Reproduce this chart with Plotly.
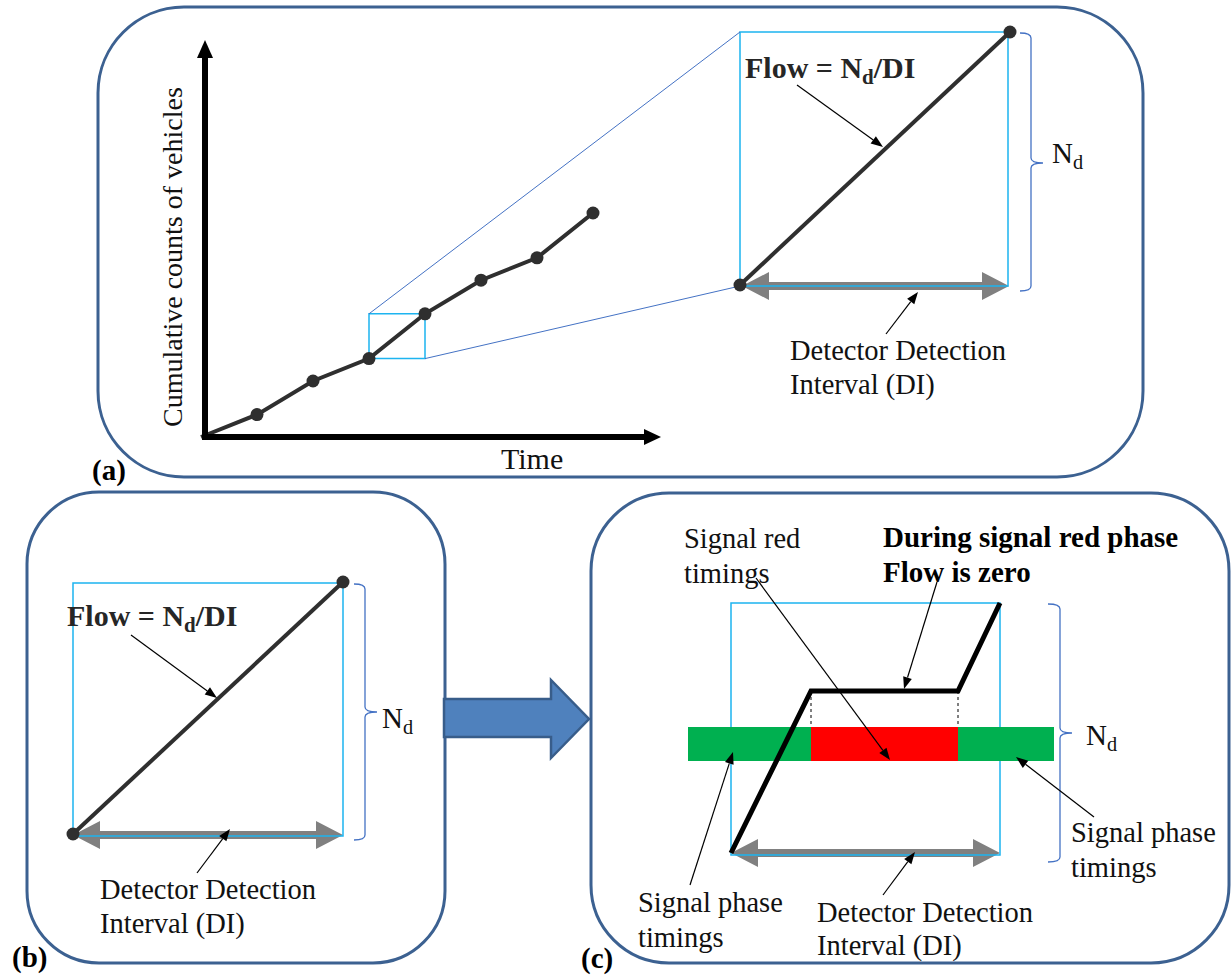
import math
import plotly.graph_objects as go

W, H = 1231, 978
FONT = "Liberation Serif"

# ---------------- data: panel (a) cumulative curve ----------------
time_steps = [0, 1, 2, 3, 4, 5, 6, 7]
cum_counts = [0, 2, 5, 7, 11, 14, 16, 20]
zoom_t = [3, 4]          # detection interval highlighted in (a)
zoom_c = [7, 11]

# mapping of panel (a) units to page pixels (origin & unit sizes)
T0_PX, T_UNIT = 201, 56.0
C0_PX, C_UNIT = 437, 11.2

def tpx(t):
    return T0_PX + T_UNIT * t

def cpx(c):
    return C0_PX - C_UNIT * c

# ---------------- schematic geometry (page pixels) ----------------
boxes = {"a": [98, 7, 1143, 477, 86], "b": [27, 492, 445, 963, 72], "c": [591, 493, 1229, 963, 78]}
insets = {"a": [740, 32, 1008, 286], "b": [73, 583, 343, 836], "c": [731, 603, 1000, 855]}
diag_a_x = [740, 1010]; diag_a_y = [285, 32]
diag_b_x = [73, 343];   diag_b_y = [834, 582]
flow_c_x = [731, 811, 958, 1000]
flow_c_y = [853, 691, 691, 603]
green_x = [688, 1054]; red_x = [811, 958]; bar_y = [727, 761]
di_arrow = {"a": [742, 1009, 286], "b": [73, 343, 835], "c": [731, 1000, 853]}
brackets = {"a": [1020, 1031, 1043, 33, 163, 291], "b": [354, 365, 377, 584, 712, 840], "c": [1048, 1060, 1072, 604, 733, 862]}
pointers = [((797, 85), (883, 147)), ((886, 334), (918, 292)),
            ((131, 635), (217, 698)), ((197, 873), (230, 829)),
            ((756, 578), (890, 760)), ((937, 582), (904, 689)),
            ((690, 885), (733, 752)), ((1094, 817), (1016, 757)),
            ((883, 895), (915, 852))]

BOX_COL = "#3C6191"
CYAN = "#1DB4F0"
CONN = "#4472C4"
DARK = "#2F2F2F"
GRAY = "#808080"

fig = go.Figure()

shapes = []

def rrect(x0, y0, x1, y1, r):
    c = 0.5523 * r
    return (f"M {x0+r},{y0} L {x1-r},{y0} C {x1-r+c},{y0} {x1},{y0+r-c} {x1},{y0+r} "
            f"L {x1},{y1-r} C {x1},{y1-r+c} {x1-r+c},{y1} {x1-r},{y1} "
            f"L {x0+r},{y1} C {x0+r-c},{y1} {x0},{y1-r+c} {x0},{y1-r} "
            f"L {x0},{y0+r} C {x0},{y0+r-c} {x0+r-c},{y0} {x0+r},{y0} Z")

def dbl_arrow(xa, xb, yc, hs=4, hh=14, hl=27):
    return (f"M {xa},{yc} L {xa+hl},{yc-hh} L {xa+hl},{yc-hs} L {xb-hl},{yc-hs} "
            f"L {xb-hl},{yc-hh} L {xb},{yc} L {xb-hl},{yc+hh} L {xb-hl},{yc+hs} "
            f"L {xa+hl},{yc+hs} L {xa+hl},{yc+hh} Z")

def bracket(x0, x1, xt, top, mid, bot):
    q = 5
    return (f"M {x0},{top} Q {x1},{top} {x1},{top+q} L {x1},{mid-q} Q {x1},{mid} {xt},{mid} "
            f"Q {x1},{mid} {x1},{mid+q} L {x1},{bot-q} Q {x1},{bot} {x0},{bot}")

# gray detection-interval arrows (bottom layer)
for k, (xa, xb, yc) in di_arrow.items():
    shapes.append(dict(type="path", path=dbl_arrow(xa, xb, yc), xref="x", yref="y",
                       fillcolor=GRAY, line=dict(width=0), layer="below"))
# cyan inset rectangles
for k, (x0, y0, x1, y1) in insets.items():
    shapes.append(dict(type="rect", x0=x0, y0=y0, x1=x1, y1=y1, xref="x", yref="y",
                       line=dict(color=CYAN, width=1.5), layer="below"))
# signal bars
shapes.append(dict(type="rect", x0=green_x[0], x1=green_x[1], y0=bar_y[0], y1=bar_y[1],
                   xref="x", yref="y", fillcolor="#00B050", line=dict(width=0), layer="below"))
shapes.append(dict(type="rect", x0=red_x[0], x1=red_x[1], y0=bar_y[0], y1=bar_y[1],
                   xref="x", yref="y", fillcolor="#FF0000", line=dict(width=0), layer="below"))
# dotted verticals from flat part down to bar
for xv in red_x:
    shapes.append(dict(type="line", x0=xv, x1=xv, y0=flow_c_y[1], y1=bar_y[0], xref="x", yref="y",
                       line=dict(color="black", width=1, dash="dot"), layer="below"))

# small zoom rectangle in (a) + connector lines
zx0, zx1 = tpx(zoom_t[0]), tpx(zoom_t[1])
zy0, zy1 = cpx(zoom_c[1]), cpx(zoom_c[0])
shapes.append(dict(type="rect", x0=zx0, x1=zx1, y0=zy0, y1=zy1, xref="x", yref="y",
                   line=dict(color=CYAN, width=1.5), layer="below"))
ia = insets["a"]
shapes.append(dict(type="line", x0=zx0, y0=zy0, x1=ia[0], y1=ia[1], xref="x", yref="y",
                   line=dict(color=CONN, width=1), layer="below"))
shapes.append(dict(type="line", x0=zx1, y0=zy1, x1=ia[0], y1=ia[3], xref="x", yref="y",
                   line=dict(color=CONN, width=1), layer="below"))

# rounded panel boxes
for k, (x0, y0, x1, y1, r) in boxes.items():
    shapes.append(dict(type="path", path=rrect(x0, y0, x1, y1, r), xref="x", yref="y",
                       line=dict(color=BOX_COL, width=3)))
# brackets
for k, b in brackets.items():
    shapes.append(dict(type="path", path=bracket(*b), xref="x", yref="y",
                       line=dict(color=CONN, width=1.3)))

# thin black pointer arrows (line + filled head)
for (tx, ty), (hx, hy) in pointers:
    L = math.hypot(hx - tx, hy - ty)
    ux, uy = (hx - tx) / L, (hy - ty) / L
    hl, hw = 12, 4.5
    bx, by = hx - ux * hl, hy - uy * hl
    shapes.append(dict(type="line", x0=tx, y0=ty, x1=bx, y1=by, xref="x", yref="y",
                       line=dict(color="black", width=1.2)))
    shapes.append(dict(type="path",
                       path=f"M {hx:.1f},{hy:.1f} L {bx - uy*hw:.1f},{by + ux*hw:.1f} "
                            f"L {bx + uy*hw:.1f},{by - ux*hw:.1f} Z",
                       xref="x", yref="y", fillcolor="black", line=dict(width=0)))

# axes of panel (a)
ax_x, ax_y = 205, 437
shapes.append(dict(type="line", x0=ax_x, x1=ax_x, y0=ax_y + 3, y1=56, xref="x", yref="y",
                   line=dict(color="black", width=6)))
shapes.append(dict(type="path", path=f"M {ax_x-8},{58} L {ax_x},{40} L {ax_x+8},{58} Z",
                   xref="x", yref="y", fillcolor="black", line=dict(width=0)))
shapes.append(dict(type="line", x0=ax_x - 3, x1=646, y0=ax_y, y1=ax_y, xref="x", yref="y",
                   line=dict(color="black", width=6)))
shapes.append(dict(type="path", path=f"M 644,{ax_y-8} L 661,{ax_y} L 644,{ax_y+8} Z",
                   xref="x", yref="y", fillcolor="black", line=dict(width=0)))

# big block arrow between (b) and (c)
shapes.append(dict(type="path",
                   path="M 444,699 L 551,699 L 551,680 L 589,719 L 551,758 L 551,737 L 444,737 Z",
                   xref="x", yref="y", fillcolor="#4F81BD", line=dict(color="#385D8A", width=2.5)))

# ---------------- traces ----------------
fig.add_trace(go.Scatter(x=time_steps, y=cum_counts, xaxis="x2", yaxis="y2", mode="lines",
                         line=dict(color=DARK, width=4), hoverinfo="skip"))
fig.add_trace(go.Scatter(x=time_steps[1:], y=cum_counts[1:], xaxis="x2", yaxis="y2", mode="markers",
                         marker=dict(color=DARK, size=13), hoverinfo="skip"))
for dx, dy in [(diag_a_x, diag_a_y), (diag_b_x, diag_b_y)]:
    fig.add_trace(go.Scatter(x=dx, y=dy, mode="lines+markers", line=dict(color=DARK, width=4),
                             marker=dict(color=DARK, size=13), hoverinfo="skip"))
fig.add_trace(go.Scatter(x=flow_c_x, y=flow_c_y, mode="lines", line=dict(color="black", width=5),
                         hoverinfo="skip"))

# ---------------- annotations ----------------
ann = []

def text(x, y, s, size=28.5, bold=False, xanchor="left", color="#111111", angle=0):
    if bold:
        s = "<b>" + s + "</b>"
    ann.append(dict(x=x, y=y, xref="x", yref="y", text=s, showarrow=False, xanchor=xanchor,
                    yanchor="middle", align="left", textangle=angle,
                    font=dict(family=FONT, size=size, color=color)))

def lines2(x, y1, y2, l1, l2, **kw):
    text(x, y1, l1, **kw)
    text(x, y2, l2, **kw)

# panel (a)
text(172, 257, "Cumulative counts of vehicles", size=28, xanchor="center", angle=-90)
text(532, 458, "Time", size=30, xanchor="center")
text(109, 470, "(a)", size=29, bold=True, xanchor="center", color="black")
text(743, 70, "Flow = N<sub>d</sub>/DI", size=30, bold=True, color="#262626")
lines2(788, 350, 385, "Detector Detection", "Interval (DI)")
text(1050, 155, "N<sub>d</sub>", size=29)

# panel (b)
text(65, 618, "Flow = N<sub>d</sub>/DI", size=30, bold=True, color="#262626")
lines2(98, 889, 924, "Detector Detection", "Interval (DI)")
text(380, 720, "N<sub>d</sub>", size=29)
text(29, 957, "(b)", size=29, bold=True, xanchor="center", color="black")

# panel (c)
lines2(682, 538, 573, "Signal red", "timings")
lines2(881, 537, 572, "During signal red phase", "Flow is zero", size=29, bold=True, color="black")
lines2(636, 902, 937, "Signal phase", "timings")
lines2(1069, 832, 867, "Signal phase", "timings")
lines2(815, 912, 946, "Detector Detection", "Interval (DI)")
text(1084, 737, "N<sub>d</sub>", size=29)
text(597, 958, "(c)", size=29, bold=True, xanchor="center", color="black")

hidden = dict(visible=False, showgrid=False, zeroline=False, fixedrange=True)
fig.update_layout(
    width=W, height=H, margin=dict(l=0, r=0, t=0, b=0),
    paper_bgcolor="white", plot_bgcolor="white", showlegend=False,
    xaxis=dict(range=[0, W], domain=[0, 1], **hidden),
    yaxis=dict(range=[H, 0], domain=[0, 1], **hidden),
    xaxis2=dict(range=[(0 - T0_PX) / T_UNIT, (W - T0_PX) / T_UNIT], domain=[0, 1],
                overlaying="x", anchor="y2", **hidden),
    yaxis2=dict(range=[(C0_PX - H) / C_UNIT, C0_PX / C_UNIT], domain=[0, 1],
                overlaying="y", anchor="x2", **hidden),
    shapes=shapes, annotations=ann, hovermode=False,
)

fig.write_html("out.html")
